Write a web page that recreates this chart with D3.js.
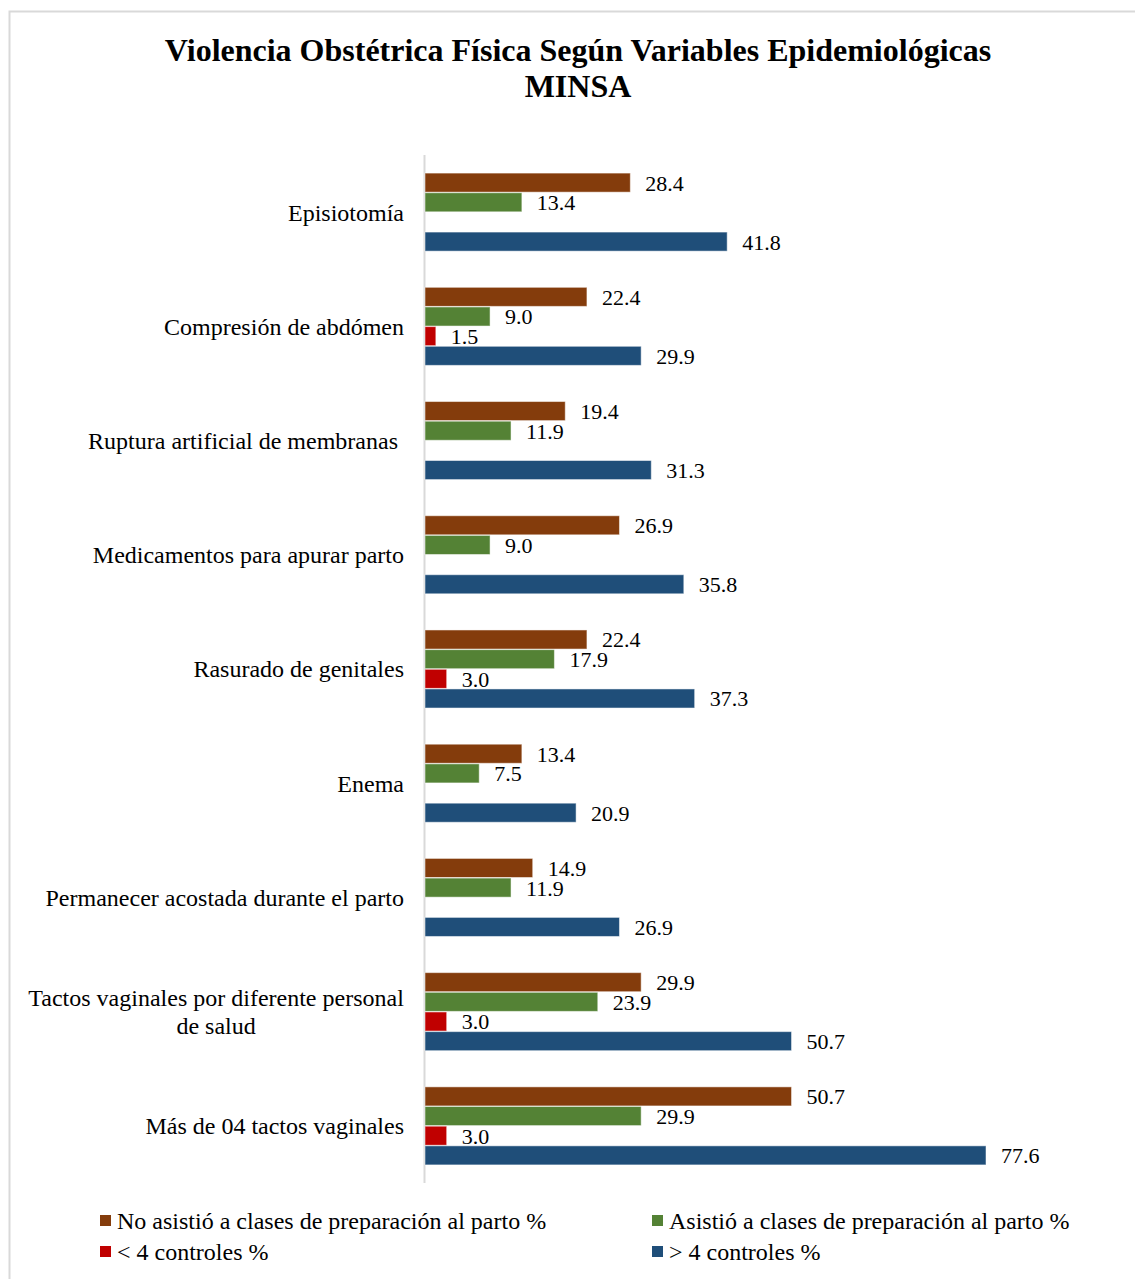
<!DOCTYPE html>
<html>
<head>
<meta charset="utf-8">
<script src="https://cdn.jsdelivr.net/npm/d3@7"></script>
<style>
  html, body { margin: 0; padding: 0; background: #fff; }
  svg { display: block; }
</style>
</head>
<body>
<svg id="chart" width="1135" height="1279"></svg>
<script>
// Categories (top to bottom); "\n" splits a label into lines
const categories = [
  "Episiotomía",
  "Compresión de abdómen",
  "Ruptura artificial de membranas ",
  "Medicamentos para apurar parto",
  "Rasurado de genitales",
  "Enema",
  "Permanecer acostada durante el parto",
  "Tactos vaginales por diferente personal\nde salud",
  "Más de 04 tactos vaginales"
];

const seriesNames = [
  "No asistió a clases de preparación al parto %",
  "Asistió a clases de preparación al parto %",
  "< 4 controles %",
  "> 4 controles %"
];

const seriesColors = ["#843C0C", "#548235", "#C00000", "#1F4E79"];

// Values per series, in category order (null = no bar)
const noAsistio = [28.4, 22.4, 19.4, 26.9, 22.4, 13.4, 14.9, 29.9, 50.7];
const asistio   = [13.4, 9.0, 11.9, 9.0, 17.9, 7.5, 11.9, 23.9, 29.9];
const menos4    = [null, 1.5, null, null, 3.0, null, null, 3.0, 3.0];
const mas4      = [41.8, 29.9, 31.3, 35.8, 37.3, 20.9, 26.9, 50.7, 77.6];

const seriesValues = [noAsistio, asistio, menos4, mas4];

const title = ["Violencia Obstétrica Física Según Variables Epidemiológicas", "MINSA"];

const svg = d3.select("#chart");
const W = 1135, H = 1279;
const serif = "'Liberation Serif', 'Times New Roman', Times, serif";

// outer frame
svg.append("rect")
  .attr("x", 9.5).attr("y", 11.5)
  .attr("width", W + 20).attr("height", H + 20)
  .attr("fill", "#fff").attr("stroke", "#d9d9d9").attr("stroke-width", 2);

// title
svg.append("g").selectAll("text").data(title).join("text")
  .attr("x", 578).attr("y", (d, i) => 61 + i * 36)
  .attr("text-anchor", "middle")
  .attr("font-family", serif).attr("font-weight", "bold").attr("font-size", 32)
  .attr("fill", "#000")
  .text(d => d);

const plotLeft = 425, plotTop = 155, plotBottom = 1183;

const x = d3.scaleLinear().domain([0, 77.6]).range([plotLeft, 986]);

const y0 = d3.scaleBand().domain(categories).range([plotTop, plotBottom]).padding(0);
const y1 = d3.scaleBand().domain(d3.range(seriesNames.length))
  .range([0, y0.bandwidth()]).paddingInner(0.03).paddingOuter(0.92);

// category axis line
svg.append("line")
  .attr("x1", plotLeft - 0.5).attr("x2", plotLeft - 0.5)
  .attr("y1", plotTop).attr("y2", plotBottom)
  .attr("stroke", "#d9d9d9").attr("stroke-width", 2);

// bars
const rows = [];
categories.forEach((c, ci) => {
  seriesValues.forEach((vals, si) => {
    if (vals[ci] != null) rows.push({ cat: c, s: si, v: vals[ci] });
  });
});

const g = svg.append("g");
g.selectAll("rect.bar").data(rows).join("rect")
  .attr("class", "bar")
  .attr("x", x(0))
  .attr("y", d => y0(d.cat) + y1(d.s))
  .attr("width", d => x(d.v) - x(0))
  .attr("height", y1.bandwidth())
  .attr("fill", d => seriesColors[d.s])
  .attr("stroke", "#ffffff").attr("stroke-opacity", 0.5).attr("stroke-width", 1);

// value labels
g.selectAll("text.val").data(rows).join("text")
  .attr("class", "val")
  .attr("x", d => x(d.v) + 15)
  .attr("y", d => y0(d.cat) + y1(d.s) + y1.bandwidth() / 2)
  .attr("dy", "0.36em")
  .attr("font-family", serif).attr("font-size", 22).attr("fill", "#000")
  .text(d => d3.format(".1f")(d.v));

// category labels
const catG = svg.append("g");
categories.forEach(c => {
  const lines = c.split("\n");
  const cy = y0(c) + y0.bandwidth() / 2;
  const lh = 28;
  const t = catG.append("text")
    .attr("font-family", serif).attr("font-size", 24).attr("fill", "#000")
    .attr("text-anchor", lines.length > 1 ? "middle" : "end")
    .attr("xml:space", "preserve");
  if (lines.length === 1) {
    t.attr("x", 404).attr("y", cy).attr("dy", "0.35em").text(c);
  } else {
    lines.forEach((ln, i) => {
      t.append("tspan").attr("x", 0).attr("y", cy + (i - (lines.length - 1) / 2) * lh)
        .attr("dy", "0.35em").text(ln);
    });
    // right-align the block, center lines within it
    const w = t.node().getBBox().width;
    t.selectAll("tspan").attr("x", 404 - w / 2);
  }
});

// legend
const legendPos = [
  { x: 100, y: 1221 }, { x: 652, y: 1221 },
  { x: 100, y: 1252 }, { x: 652, y: 1252 }
];
const lg = svg.append("g").selectAll("g").data(seriesNames).join("g")
  .attr("transform", (d, i) => `translate(${legendPos[i].x},${legendPos[i].y})`);
lg.append("rect").attr("x", 0).attr("y", -6).attr("width", 11).attr("height", 11)
  .attr("fill", (d, i) => seriesColors[i]);
lg.append("text").attr("x", 17).attr("y", 0).attr("dy", "0.35em")
  .attr("font-family", serif).attr("font-size", 24).attr("fill", "#000")
  .text(d => d);
</script>
</body>
</html>
